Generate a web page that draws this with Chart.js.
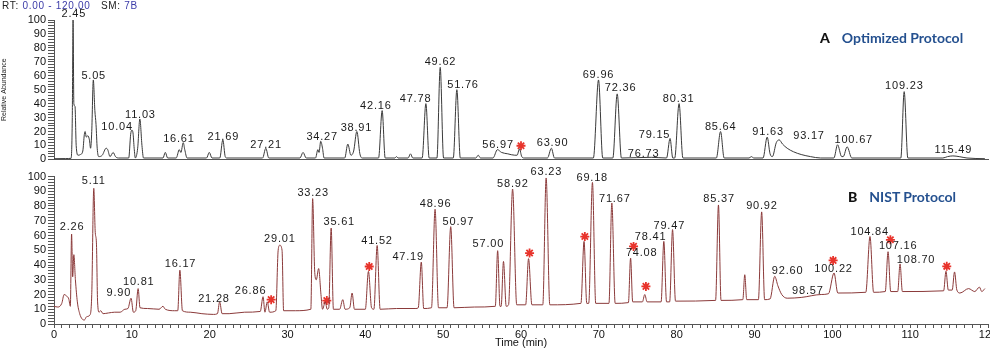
<!DOCTYPE html>
<html>
<head>
<meta charset="utf-8">
<script src="https://cdn.jsdelivr.net/npm/chart.js@4.4.1/dist/chart.umd.min.js"></script>
<style>
body{margin:0;width:990px;height:350px;overflow:hidden;background:#fff;position:relative;font-family:"Liberation Sans",Arial,sans-serif;}
.box{position:absolute;left:0;width:998px;}
#topBox{top:0;height:168px;}
#botBox{top:165px;height:185px;}
.rt{position:absolute;left:2px;top:0;line-height:12px;font-size:10px;letter-spacing:0.7px;color:#222;}
.rt span{color:#3b3ba8;}
.tag{position:absolute;font-family:Lato,"Open Sans",sans-serif;font-weight:bold;font-size:14px;line-height:16px;color:#24508f;white-space:nowrap;}
.tag b{color:#111;margin-right:12px;}
</style>
</head>
<body>
<div class="box" id="topBox"><canvas id="grafA" width="998" height="168"></canvas></div>
<div class="box" id="botBox"><canvas id="grafB" width="998" height="185"></canvas></div>
<div class="rt">RT: <span>0.00 - 120.00</span>&nbsp;&nbsp;&nbsp;SM: <span>7B</span></div>
<div class="tag" style="left:820px;top:30px;"><b>A</b>Optimized Protocol</div>
<div class="tag" style="left:848px;top:189px;"><b>B</b>NIST Protocol</div>
<script>
// traces: [time (min), relative abundance]
var traceOptimized = [
  [0,0.5],[1.5,0.6],[2.2,0.8],[2.35,30],[2.45,100],[2.55,40],[2.7,38],[2.85,10],[3.1,3],[3.4,3.5],
  [3.7,6],[3.9,18],[4.0,20],[4.15,16],[4.35,17],[4.55,14],[4.7,8],[4.85,20],[5.05,57],[5.25,35],
  [5.4,25],[5.55,8],[5.75,2],[6.2,3],[6.7,8],[6.9,7],[7.2,2],[7.6,5],[7.9,2],[8.3,1],
  [9.6,1],[9.85,18],[10.0,21],[10.15,19],[10.3,8],[10.45,1],[10.75,8],[11.03,29],[11.3,10],[11.5,1],
  [14.0,1],[14.3,5],[14.6,1],[15.7,1],[16.1,7],[16.3,5],[16.61,12],[16.8,7],[17.1,1],
  [19.6,1],[19.95,5],[20.3,1],[21.3,1],[21.69,14],[22.0,2],[22.2,1],[26.8,1],[27.21,8],[27.6,1],
  [31.6,1],[32.0,5],[32.4,1],[33.6,1],[33.9,7],[34.05,5],[34.27,13],[34.5,8],[34.7,1],
  [37.35,1],[37.75,11],[38.15,3],[38.5,6],[38.91,20],[39.3,4],[39.6,1],[41.7,1],[42.16,35],[42.55,1],
  [43.8,1],[44.0,2],[44.2,1],[45.5,1],[45.8,4],[46.1,1],[47.3,1],[47.78,40],[48.2,1],
  [49.2,1],[49.62,66],[50.05,1],[51.3,1],[51.76,50],[52.2,1],[54.2,1],[54.5,3],[54.8,1],
  [56.4,1],[56.97,7],[57.5,5],[58.3,4],[59.2,3],[59.5,3],[59.8,7.5],[60.1,2],[60.4,1],
  [63.4,1],[63.9,8],[64.3,1],[69.3,1],[69.96,57],[70.5,1],[71.8,1],[72.36,47],[72.9,1],
  [76.73,1.5],[78.7,1],[79.15,15],[79.5,1],[79.75,1],[80.31,40],[80.8,1],[85.1,1],[85.64,20],[86.1,1],
  [89.3,1],[89.6,2],[89.9,1],[91.1,1],[91.63,16],[92.0,4],[92.3,2],[92.8,12],[93.17,14],[93.6,11],
  [94.2,8],[95.0,5.5],[96.0,3.5],[97.2,2],[98.5,1],[100.2,1],[100.67,10.5],[101.2,2],[101.4,2],[101.9,9],
  [102.5,1],[108.8,1],[109.23,48.6],[109.7,1],[114.2,1],[114.8,2],[115.49,2.5],[116.3,2],[117.3,1],[119.6,0.5]
];

var traceNist = [
  [0,12],[0.5,11.5],[1.0,14],[1.3,20],[1.6,19],[1.9,17],[2.1,12],[2.26,61],[2.4,32],[2.55,47],
  [2.75,30],[3.0,15],[3.3,7],[3.6,3.5],[3.9,2.7],[4.2,5],[4.6,6],[4.85,20],[5.11,92],[5.3,62],
  [5.45,55],[5.6,15],[5.8,8],[6.0,9],[6.3,7],[7.0,7.5],[7.8,8],[8.5,8],[9.1,10],[9.5,10.5],
  [9.9,17.5],[10.2,8],[10.5,9],[10.81,24],[11.05,11],[12.0,10.5],[13.5,10],[14.0,12],[14.3,10],[15.5,9],
  [15.9,9],[16.17,36.5],[16.5,9],[17.5,8],[19.0,7],[20.5,6.5],[21.0,7],[21.28,15],[21.6,7],[22.5,7],
  [24.5,8],[26.5,8.5],[26.86,18.5],[27.1,8],[27.4,15],[27.7,8],[28.5,9],[28.8,50],[29.01,53.4],[29.3,50],
  [29.5,9],[31.0,9],[33.0,10],[33.23,85],[33.5,35],[33.7,30],[34.0,37.6],[34.3,20],[34.5,10],[34.85,15],
  [35.1,10],[35.3,11],[35.61,65],[35.9,10],[36.7,10],[37.1,16.5],[37.4,10],[38.0,11],[38.3,21],[38.6,10],
  [40.0,10],[40.4,35.7],[40.8,11],[41.1,10],[41.52,53.2],[41.9,10],[44.0,10.5],[46.5,10.5],[46.8,11],[47.19,42],
  [47.5,10.5],[48.5,11],[48.96,77.8],[49.4,11],[50.5,11],[50.97,66],[51.4,11],[54.0,11.5],[56.7,12],[57.0,49.7],
  [57.3,12],[57.45,12],[57.75,42.4],[58.1,12],[58.4,13],[58.92,91.5],[59.45,13],[60.6,13],[60.97,44.3],[61.4,13],
  [62.8,13],[63.23,99],[63.7,13],[67.7,14],[68.1,56],[68.45,14],[68.7,14],[69.18,96],[69.6,14],[71.3,14],
  [71.67,82],[72.1,14],[73.8,14.5],[74.08,44.7],[74.35,15],[75.6,15],[75.9,20],[76.2,15],[78.0,15],[78.35,56],
  [78.7,15],[79.1,15],[79.47,64],[79.85,15.5],[85.0,16],[85.37,80.7],[85.7,16],[88.5,16.5],[88.75,33.4],[89.0,16.5],
  [90.5,16.5],[90.92,76],[91.3,16.5],[92.0,17],[92.6,32.3],[93.0,26],[93.5,20],[94.2,17.5],[96.0,18],[98.57,20],
  [99.5,20.5],[100.22,34.6],[100.7,21],[104.3,21.5],[104.84,59.3],[105.3,21.5],[106.8,22],[107.16,49],[107.5,22],[108.4,22],
  [108.7,40.7],[109.0,22],[114.3,22.5],[114.6,35.7],[114.9,23],[115.4,23],[115.7,35.3],[116.0,23],[116.4,21],[117.5,24],
  [118.3,22],[118.9,25],[119.2,22],[119.6,24]
];

// peak labels: [time, level, text]
var peaksOptimized = [
  [2.5,104,'2.45'],[5.05,59.6,'5.05'],[8.06,23.5,'10.04'],[11.05,32.2,'11.03'],[16.0,14.9,'16.61'],
  [21.7,16.2,'21.69'],[27.2,10.5,'27.21'],[34.4,16.2,'34.27'],[38.8,22.4,'38.91'],[41.3,38.4,'42.16'],
  [46.4,43.6,'47.78'],[49.6,69.6,'49.62'],[52.5,53.2,'51.76'],[57.0,10.5,'56.97'],[64.0,11.6,'63.90'],
  [69.9,60.7,'69.96'],[72.75,51.6,'72.36'],[75.7,4.1,'76.73'],[77.1,17.8,'79.15'],[80.2,43.4,'80.31'],
  [85.6,23.1,'85.64'],[91.7,19.7,'91.63'],[96.95,16.7,'93.17'],[102.7,13.9,'100.67'],[109.2,52.5,'109.23'],
  [115.5,6.8,'115.49']
];

var peaksNist = [
  [2.27,66.1,'2.26'],[5.05,97,'5.11'],[8.27,21.1,'9.90'],[10.84,28.5,'10.81'],[16.2,40.7,'16.17'],
  [20.5,17.2,'21.28'],[25.2,22.6,'26.86'],[28.96,57.8,'29.01'],[33.25,88.6,'33.23'],[36.6,69.5,'35.61'],
  [41.45,56.6,'41.52'],[45.45,45.4,'47.19'],[48.97,81.4,'48.96'],[51.9,69.5,'50.97'],[55.75,54.2,'57.00'],
  [58.9,94.7,'58.92'],[63.2,103.2,'63.23'],[69.1,99.2,'69.18'],[72.0,84.6,'71.67'],[75.45,48.1,'74.08'],
  [76.6,58.7,'78.41'],[79.0,66.8,'79.47'],[85.4,84.6,'85.37'],[90.9,80,'90.92'],[94.2,35.7,'92.60'],
  [96.8,22.6,'98.57'],[100.1,37.5,'100.22'],[104.75,62.7,'104.84'],[108.4,52.6,'107.16'],[110.7,43.1,'108.70']
];

// red asterisks: [time, level]
var starsOptimized = [[60.0,9.8]];
var starsNist = [
  [27.9,16.5],[35.05,15.9],[40.5,39],[61.1,48.1],[68.2,59.3],[74.46,52.6],[76.05,25.5],
  [100.1,43.1],[107.46,57.1],[114.7,39.1]
];

function pts(arr){
    return arr.map(function(p){ return {x: p[0], y: p[1]}; });
}

var peakText = {
    id: 'peakText',
    afterDatasetsDraw: function(chart, args, opts){
        var ctx = chart.ctx, xs = chart.scales.x, ys = chart.scales.y;
        ctx.save();
        ctx.font = '11px "Liberation Sans", Arial, sans-serif';
        ctx.letterSpacing = '0.8px';
        ctx.fillStyle = '#1a1a1a';
        ctx.textAlign = 'center';
        ctx.textBaseline = 'middle';
        opts.items.forEach(function(p){
            ctx.fillText(p[2], xs.getPixelForValue(p[0]) + 0.4, ys.getPixelForValue(p[1]));
        });
        ctx.restore();
    }
};

var tickFont = {family: '"Liberation Sans", Arial, sans-serif', size: 11};

function grafico(id, trace, cor, stars, peaks, bottom){
    var ctx = document.getElementById(id).getContext('2d');
    return new Chart(ctx, {
        type: 'line',
        data: {
            datasets: [{
                data: pts(trace),
                borderColor: cor,
                borderWidth: 1,
                pointRadius: 0,
                cubicInterpolationMode: 'monotone',
                fill: false
            }, {
                data: pts(stars),
                showLine: false,
                pointStyle: 'star',
                pointRadius: 4.5,
                pointBorderColor: '#e8342c',
                pointBorderWidth: 1.8,
                pointBackgroundColor: '#e8342c'
            }]
        },
        options: {
            responsive: false,
            animation: false,
            devicePixelRatio: 1,
            layout: {padding: {top: bottom ? 11.5 : 20, right: 10, bottom: 0, left: 0}},
            plugins: {
                legend: {display: false},
                tooltip: {enabled: false},
                peakText: {items: peaks}
            },
            scales: {
                x: {
                    type: 'linear',
                    min: 0, max: 120,
                    grid: {drawOnChartArea: false, drawTicks: bottom, tickLength: 4, color: '#555'},
                    border: {color: '#555'},
                    ticks: {
                        display: bottom,
                        stepSize: 1,
                        autoSkip: false,
                        maxRotation: 0,
                        padding: 0,
                        color: '#111',
                        font: tickFont,
                        callback: function(v){ return v % 10 === 0 ? v : ''; }
                    },
                    title: {
                        display: bottom,
                        text: 'Time (min)',
                        color: '#111',
                        padding: 0,
                        font: {family: '"Liberation Sans", Arial, sans-serif', size: 11}
                    },
                    afterFit: function(s){ s.height = bottom ? 26 : 2; }
                },
                y: {
                    min: 0, max: 100,
                    grid: {drawOnChartArea: false, tickLength: 6, color: '#555'},
                    border: {color: '#555'},
                    ticks: {
                        stepSize: 2,
                        autoSkip: false,
                        padding: 2,
                        color: '#111',
                        font: tickFont,
                        callback: function(v){ return v % 10 === 0 ? v : ''; }
                    },
                    title: {
                        display: !bottom,
                        text: 'Relative Abundance',
                        color: '#222',
                        padding: 0,
                        font: {family: '"Liberation Sans", Arial, sans-serif', size: 7}
                    },
                    afterFit: function(s){ s.width = 54; }
                }
            }
        },
        plugins: [peakText]
    });
}

grafico('grafA', traceOptimized, '#3a3a3a', starsOptimized, peaksOptimized, false);
grafico('grafB', traceNist, '#8b3a3a', starsNist, peaksNist, true);
</script>
</body>
</html>
